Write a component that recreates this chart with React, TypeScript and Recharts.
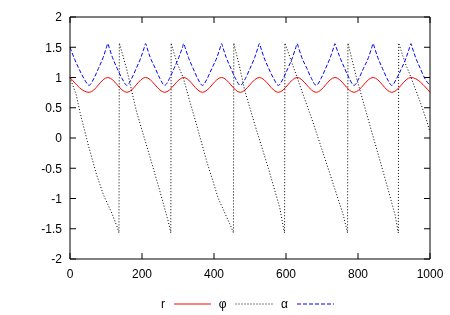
import React from 'react';
import { LineChart, Line, XAxis, YAxis, Legend } from 'recharts';

const xTicks = [0, 200, 400, 600, 800, 1000];
const yTicks = [-2, -1.5, -1, -0.5, 0, 0.5, 1, 1.5, 2];

// [x, value] pairs
const rPoints = [
  [0, 1], [53, 0.755], [105, 1], [158, 0.755], [210, 1], [263, 0.755], [316, 1], [368, 0.755],
  [421, 1], [473, 0.755], [526, 1], [579, 0.755], [631, 1], [684, 0.755], [736, 1], [789, 0.755],
  [842, 1], [894, 0.755], [947, 1], [1000, 0.755],
];

const phiPoints = [
  [0, 1.0], [17, 0.72], [28, 0.42], [51, -0.12], [74, -0.61], [93, -0.94], [116, -1.24], [131, -1.47], [136, -1.57],
  [137, 1.57], [157, 1.15], [185, 0.43], [218, -0.23], [245, -0.78], [273, -1.38], [280, -1.57],
  [281, 1.57], [296, 1.26], [315, 0.99], [333, 0.6], [352, 0.21], [380, -0.39], [412, -1.0], [449, -1.49], [454, -1.57],
  [455, 1.57], [472, 1.15], [486, 0.77], [514, 0.21], [551, -0.5], [583, -1.16], [594, -1.52], [596, -1.57],
  [597, 1.57], [625, 1.1], [648, 0.71], [671, 0.33], [717, -0.5], [759, -1.27], [771, -1.57],
  [772, 1.57], [796, 0.99], [833, 0.21], [870, -0.56], [903, -1.27], [912, -1.57],
  [913, 1.57], [931, 1.24], [944, 1.05], [958, 0.83], [972, 0.61], [991, 0.28], [1000, 0.1],
];

const alphaPoints = [
  [0, 1.5], [13, 1.3], [26, 1.13], [40, 0.97], [53, 0.87],
  [66, 0.98], [79, 1.15], [92, 1.33], [101, 1.49], [105, 1.56], [109, 1.49], [118, 1.33], [131, 1.15], [145, 0.98], [158, 0.87],
  [171, 0.98], [184, 1.15], [197, 1.33], [206, 1.49], [210, 1.56], [214, 1.49], [223, 1.33], [237, 1.15], [250, 0.98], [263, 0.87],
  [276, 0.98], [289, 1.15], [302, 1.33], [312, 1.49], [316, 1.56], [320, 1.49], [329, 1.33], [342, 1.15], [355, 0.98], [368, 0.87],
  [381, 0.98], [394, 1.15], [408, 1.33], [417, 1.49], [421, 1.56], [425, 1.49], [434, 1.33], [447, 1.15], [460, 0.98], [473, 0.87],
  [487, 0.98], [500, 1.15], [513, 1.33], [522, 1.49], [526, 1.56], [530, 1.49], [539, 1.33], [552, 1.15], [566, 0.98], [579, 0.87],
  [592, 0.98], [605, 1.15], [618, 1.33], [627, 1.49], [631, 1.56], [635, 1.49], [644, 1.33], [658, 1.15], [671, 0.98], [684, 0.87],
  [697, 0.98], [710, 1.15], [723, 1.33], [732, 1.49], [736, 1.56], [740, 1.49], [750, 1.33], [763, 1.15], [776, 0.98], [789, 0.87],
  [802, 0.98], [815, 1.15], [829, 1.33], [838, 1.49], [842, 1.56], [846, 1.49], [855, 1.33], [868, 1.15], [881, 0.98], [894, 0.87],
  [907, 0.98], [921, 1.15], [934, 1.33], [943, 1.49], [947, 1.56], [951, 1.49], [960, 1.33], [973, 1.15], [986, 0.98], [1000, 0.87],
];

const toRows = (pts: number[][]) => pts.map(([x, y]) => ({ x, y }));

const series = [
  { name: 'r', color: '#ff0000', dash: undefined, rows: toRows(rPoints), type: 'monotone' as const },
  { name: 'φ', color: '#000000', dash: '1 2', rows: toRows(phiPoints), type: 'linear' as const },
  { name: 'α', color: '#0000ff', dash: '4 2', rows: toRows(alphaPoints), type: 'monotone' as const },
];

const font = { fontFamily: '"Liberation Sans", Arial, sans-serif', fontSize: 12, fill: '#000' };
const noLabel = () => <g />;

// gnuplot style key: label right-aligned, then a line sample
const Key = () => (
  <svg width={450} height={20} style={{ display: 'block' }}>
    {series.map((s, i) => {
      const x0 = 174 + i * 61.5;
      return (
        <g key={s.name}>
          <text x={x0 - 9} y={14} textAnchor="end" {...font}>{s.name}</text>
          <line x1={x0} x2={x0 + 37} y1={10} y2={10} stroke={s.color} strokeDasharray={s.dash} />
        </g>
      );
    })}
  </svg>
);

export default function App() {
  return (
    <div style={{ position: 'fixed', left: 0, top: 0 }}>
      <LineChart width={450} height={315} margin={{ top: 16, right: 19, bottom: 1, left: 0 }}>
        <XAxis dataKey="x" type="number" domain={[0, 1000]} ticks={xTicks} interval={0} height={35}
          tickSize={-6} tickMargin={16.5} stroke="#000" tick={font} />
        <XAxis xAxisId="top" orientation="top" dataKey="x" type="number" domain={[0, 1000]} ticks={xTicks}
          interval={0} height={1} tickSize={-6} stroke="#000" tick={noLabel} />
        <YAxis type="number" domain={[-2, 2]} ticks={yTicks} interval={0} width={70}
          tickSize={-6} tickMargin={14} stroke="#000" tick={font} />
        <YAxis yAxisId="right" orientation="right" type="number" domain={[-2, 2]} ticks={yTicks} interval={0}
          width={1} tickSize={-6} stroke="#000" tick={noLabel} />
        <Legend verticalAlign="bottom" content={<Key />} wrapperStyle={{ left: 0, width: 450, height: 20 }} />
        {/* invisible series so the mirrored top/right axes get drawn */}
        <Line data={series[0].rows} dataKey="y" xAxisId="top" yAxisId="right" stroke="none" legendType="none"
          dot={false} activeDot={false} isAnimationActive={false} />
        {series.map((s) => (
          <Line key={s.name} data={s.rows} dataKey="y" name={s.name} type={s.type} stroke={s.color}
            strokeWidth={1} strokeDasharray={s.dash} dot={false} activeDot={false} isAnimationActive={false} />
        ))}
      </LineChart>
    </div>
  );
}
